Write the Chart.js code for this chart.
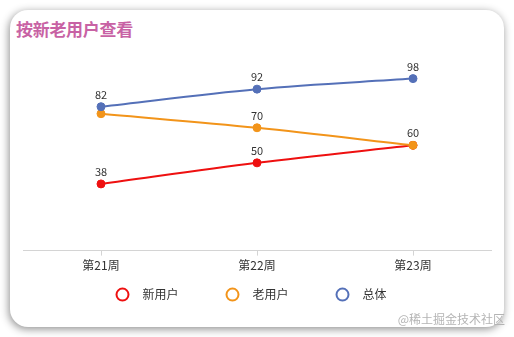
<!DOCTYPE html>
<html>
<head>
<meta charset="utf-8">
<script src="https://cdn.jsdelivr.net/npm/chart.js@4/dist/chart.umd.min.js"></script>
<style>
  html, body { margin: 0; padding: 0; background: #fff; }
  body { width: 514px; height: 337px; position: relative; overflow: hidden; font-family: "Noto Sans CJK SC", "Noto Sans", sans-serif; }
  .card { position: absolute; left: 10px; top: 10px; width: 494px; height: 317px; background: #fff; border-radius: 18px; box-shadow: -1px 2px 8px rgba(0,0,0,0.45); }
  .card-title { position: absolute; left: 16px; top: 17px; font-size: 17px; font-weight: bold; color: #c862a4; line-height: 24px; letter-spacing: -0.3px; }
  .chart-box { position: absolute; left: 0; top: 0; width: 514px; height: 337px; }
  .watermark { position: absolute; right: 9px; top: 310px; font-size: 12px; color: #b4b4b4; line-height: 18px; }
</style>
</head>
<body>
<div class="card"></div>
<div class="card-title">按新老用户查看</div>
<div class="chart-box"><canvas id="grafikUser"></canvas></div>
<div class="watermark">@稀土掘金技术社区</div>
<script>
const weeks = ['第21周', '第22周', '第23周'];
const seriesNames = ['新用户', '老用户', '总体'];
const newUsers = [38, 50, 60];
const oldUsers = [78, 70, 60];
const totalUsers = [82, 92, 98];
const colors = ['#ee1010', '#f2941a', '#5470b8'];

// labels above the points, skip the ones that overlap
const pointLabels = {
    id: 'pointLabels',
    afterDatasetsDraw(chart) {
        const ctx = chart.ctx;
        const placed = [];
        ctx.save();
        ctx.font = '11px "Noto Sans CJK SC", sans-serif';
        ctx.fillStyle = '#333';
        ctx.textAlign = 'center';
        ctx.textBaseline = 'middle';
        for (let d = chart.data.datasets.length - 1; d >= 0; d--) {
            const meta = chart.getDatasetMeta(d);
            meta.data.forEach(function(pt, i) {
                const text = String(chart.data.datasets[d].data[i]);
                const w = ctx.measureText(text).width;
                const box = { x: pt.x - w / 2, y: pt.y - 18, w: w, h: 12 };
                const hit = placed.some(function(b) {
                    return box.x < b.x + b.w && b.x < box.x + box.w && box.y < b.y + b.h && b.y < box.y + box.h;
                });
                if (hit) return;
                placed.push(box);
                ctx.fillText(text, pt.x, pt.y - 12);
            });
        }
        ctx.restore();
    }
};

// hollow circle legend under the axis
const circleLegend = {
    id: 'circleLegend',
    afterDraw(chart) {
        const ctx = chart.ctx;
        const sets = chart.data.datasets;
        ctx.save();
        ctx.font = '12px "Noto Sans CJK SC", sans-serif';
        const gap = 54;
        let total = 7;
        sets.forEach(function(ds, i) {
            total += 20 + ctx.measureText(ds.label).width + (i < sets.length - 1 ? gap : 0);
        });
        let x = chart.width / 2 - 6 - total / 2 + 7;
        const y = chart.chartArea.bottom + 44;
        sets.forEach(function(ds) {
            ctx.beginPath();
            ctx.arc(x, y, 6, 0, Math.PI * 2);
            ctx.lineWidth = 2;
            ctx.strokeStyle = ds.borderColor;
            ctx.stroke();
            ctx.fillStyle = '#333';
            ctx.textAlign = 'left';
            ctx.textBaseline = 'middle';
            ctx.fillText(ds.label, x + 20, y);
            x += 20 + ctx.measureText(ds.label).width + gap;
        });
        ctx.restore();
    }
};

document.addEventListener('DOMContentLoaded', function() {
    const canvas = document.getElementById('grafikUser');
    const ctx = canvas.getContext('2d');
    const values = [newUsers, oldUsers, totalUsers];
    new Chart(ctx, {
        type: 'line',
        data: {
            labels: weeks,
            datasets: seriesNames.map(function(name, i) {
                return {
                    label: name,
                    data: values[i],
                    order: seriesNames.length - 1 - i, // later series on top
                    borderColor: colors[i],
                    backgroundColor: colors[i],
                    pointBackgroundColor: colors[i],
                    pointBorderColor: colors[i],
                    pointRadius: 4,
                    pointBorderWidth: 1,
                    borderWidth: 2,
                    tension: 0.35,
                    fill: false
                };
            })
        },
        options: {
            responsive: true,
            maintainAspectRatio: false,
            animation: false,
            layout: { padding: { left: 23, right: 23, top: 40, bottom: 61 } },
            plugins: {
                legend: { display: false },
                tooltip: { enabled: false }
            },
            scales: {
                y: { display: false, min: 0, max: 120 },
                x: {
                    offset: true,
                    border: { display: true, color: '#d4d4d4', width: 1 },
                    grid: { offset: false, drawOnChartArea: false, drawTicks: true, tickLength: 5, color: '#d4d4d4' },
                    ticks: { color: '#333', padding: 3, font: { size: 12, family: '"Noto Sans CJK SC", sans-serif' } }
                }
            }
        },
        plugins: [pointLabels, circleLegend]
    });
});
</script>
</body>
</html>
